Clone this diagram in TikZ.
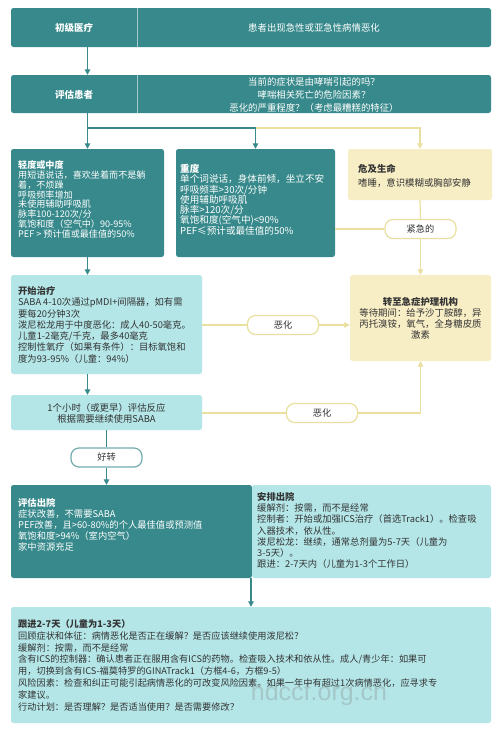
\documentclass[tikz,border=0pt]{standalone}
\usepackage{fontspec}
\setmainfont{Noto Sans CJK SC}
\newfontfamily\wmfont{Liberation Sans}
\usetikzlibrary{fit,arrows.meta}
\definecolor{tealc}{HTML}{37898B}
\definecolor{cyanc}{HTML}{B4E6E8}
\definecolor{yboxc}{HTML}{F8EEC6}
\definecolor{ylinec}{HTML}{E9DF9E}
\definecolor{darkc}{HTML}{333333}
\tikzset{
  box/.style={rounded corners=2.5pt, inner sep=0pt, draw=none},
  tbox/.style={box, fill=tealc},
  cbox/.style={box, fill=cyanc},
  ybox/.style={box, fill=yboxc},
  tline/.style={draw=tealc, line width=1.2pt},
  tarrow/.style={tline, -{Triangle[width=5.5pt,length=5.5pt]}},
  yline/.style={draw=ylinec, line width=1.2pt},
  yarrow/.style={yline, -{Triangle[width=5.5pt,length=5.5pt]}},
  pill/.style={rounded corners=8pt, fill=white, minimum width=71pt, minimum height=19pt, inner sep=0pt, line width=1.2pt, text=darkc, font=\fontsize{9.2}{10}\selectfont},
  ypill/.style={pill, draw=ylinec},
  tpill/.style={pill, draw=tealc!70},
  wtxt/.style={text=white, inner sep=0pt, align=left, anchor=base west},
  dtxt/.style={text=darkc, inner sep=0pt, align=left, anchor=base west},
  divider/.style={draw=white!55!tealc, line width=0.6pt},
}
\begin{document}
\begin{tikzpicture}[x=1pt,y=-1pt]
\useasboundingbox[fill=white] (0,0) rectangle (500,729);

% row 1 and 2
\node[tbox, fit={(11,8) (491,47)}] (prim) {};
\node[tbox, fit={(11,75) (491,113)}] (eval) {};
\draw[divider] (137,8) -- (137,47);
\draw[divider] (137,75) -- (137,113);
\node[text=white, inner sep=0pt, font=\fontsize{9.5}{11}\bfseries] (primh) at (74,28) {初级医疗};
\node[text=white, inner sep=0pt, font=\fontsize{9.4}{11}\selectfont] (primt) at (314,28) {患者出现急性或亚急性病情恶化};
\node[text=white, inner sep=0pt, font=\fontsize{9.5}{11}\bfseries] (evalh) at (74,95) {评估患者};
\node[text=white, inner sep=0pt, align=center, anchor=base, font=\fontsize{9.4}{13}\selectfont] (evalt) at (314,111.4) {当前的症状是由哮喘引起的吗？\\哮喘相关死亡的危险因素？\\恶化的严重程度？（考虑最糟糕的特征）};

% row 3
\node[tbox, fit={(11,149) (164,257)}] (mild) {};
\node[tbox, fit={(176,149) (335,257)}] (severe) {};
\node[ybox, fit={(348,149) (492,200)}] (life) {};
\node[wtxt, font=\fontsize{9.1}{9.85}\selectfont] (mildt) at (18,237.4) {\textbf{轻度或中度}\\用短语说话，喜欢坐着而不是躺\\着，不烦躁\\呼吸频率增加\\未使用辅助呼吸肌\\脉率100-120次/分\\氧饱和度（空气中）90-95\%\\PEF > 预计值或最佳值的50\%};
\node[wtxt, font=\fontsize{9.6}{10.3}\selectfont] (severet) at (180,234.2) {\textbf{重度}\\单个词说话，身体前倾，坐立不安\\呼吸频率>30次/分钟\\使用辅助呼吸肌\\脉率>120次/分\\氧饱和度(空气中)<90\%\\PEF≤预计或最佳值的50\%};
\node[dtxt, font=\fontsize{9.4}{14}\selectfont] (lifet) at (358,186.4) {\textbf{危及生命}\\嗜睡，意识模糊或胸部安静};

% treatment
\node[cbox, fit={(11,275) (202,374)}] (start) {};
\node[ybox, fit={(350,275) (491,361)}] (acute) {};
\node[dtxt, font=\fontsize{9.3}{11.3}\selectfont] (startt) at (18,362.2) {\textbf{开始治疗}\\SABA 4-10次通过pMDI+间隔器，如有需\\要每20分钟3次\\泼尼松龙用于中度恶化：成人40-50毫克。\\儿童1-2毫克/千克，最多40毫克\\控制性氧疗（如果有条件）：目标氧饱和\\度为93-95\%（儿童：94\%）};
\node[dtxt, align=center, anchor=base, font=\fontsize{9.4}{11}\selectfont] (acutet) at (420.5,338.4) {\textbf{转至急症护理机构}\\等待期间：给予沙丁胺醇，异\\丙托溴铵，氧气，全身糖皮质\\激素};

\node[cbox, fit={(11,395) (202,430)}] (hour) {};
\node[dtxt, align=center, anchor=base, font=\fontsize{9.4}{11}\selectfont] (hourt) at (106.5,422.4) {1个小时（或更早）评估反应\\根据需要继续使用SABA};

% pills
\node[ypill] (urgent) at (420.5,229) {紧急的};
\node[ypill] (worse1) at (283,325) {恶化};
\node[ypill] (worse2) at (322,413) {恶化};
\node[tpill] (better) at (106.5,457.5) {好转};

% discharge
\node[tbox, fit={(11,485) (252,578)}] (disc) {};
\node[cbox, fit={(252,485) (491,578)}] (arrange) {};
\node[wtxt, font=\fontsize{9.3}{11}\selectfont] (disct) at (18,550.4) {\textbf{评估出院}\\症状改善，不需要SABA\\PEF改善，且>60-80\%的个人最佳值或预测值\\氧饱和度>94\%（室内空气）\\家中资源充足};
\node[dtxt, font=\fontsize{9.3}{11.2}\selectfont] (arranget) at (257,567.6) {\textbf{安排出院}\\缓解剂：按需，而不是经常\\控制者：开始或加强ICS治疗（首选Track1）。检查吸\\入器技术，依从性。\\泼尼松龙：继续，通常总剂量为5-7天（儿童为\\3-5天）。\\跟进：2-7天内（儿童为1-3个工作日）};

% follow up
\node[cbox, fit={(11,607) (491,723)}] (follow) {};
\node[text=gray, opacity=0.3, inner sep=0pt, font=\wmfont\fontsize{25}{25}\selectfont] (wm) at (319,694) {hdccf.org.cn};
\node[dtxt, font=\fontsize{9.2}{11.86}\selectfont] (followt) at (18,710.4) {\textbf{跟进2-7天（儿童为1-3天）}\\回顾症状和体征：病情恶化是否正在缓解？是否应该继续使用泼尼松？\\缓解剂：按需，而不是经常\\含有ICS的控制器：确认患者正在服用含有ICS的药物。检查吸入技术和依从性。成人/青少年：如果可\\用，切换到含有ICS-福莫特罗的GINATrack1（方框4-6，方框9-5）\\风险因素：检查和纠正可能引起病情恶化的可改变风险因素。如果一年中有超过1次病情恶化，应寻求专\\家建议。\\行动计划：是否理解？是否适当使用？是否需要修改？};

% connectors
\coordinate (j1) at (mild.north |- 0,128);
\draw[tarrow] (prim.south -| mild.north) -- (eval.north -| mild.north);
\draw[tline] (eval.south -| mild.north) -- (j1);
\draw[tarrow] (j1) -- (mild.north);
\draw[yarrow] (j1 -| severe.north) -- (j1 -| life.north) -- (life.north);
\draw[tarrow] (j1) -- (j1 -| severe.north) -- (severe.north);
\draw[yline] (severe.east |- urgent.west) -- (urgent.west);
\draw[yline] (life.south) -- (urgent.north);
\draw[yarrow] (urgent.south) -- (acute.north);
\draw[tarrow] (mild.south) -- (mild.south |- start.north);
\draw[yline] (start.east |- worse1.west) -- (worse1.west);
\draw[yarrow] (worse1.east) -- (worse1.east -| acute.west);
\draw[tarrow] (start.south -| mild.south) -- (hour.north -| mild.south);
\draw[yline] (hour.east |- worse2.west) -- (worse2.west);
\draw[yarrow] (worse2.east) -- (worse2.east -| acute.south) -- (acute.south);
\draw[tline] (hour.south) -- (better.north);
\draw[tarrow] (better.south) -- (better.south |- disc.north);
\draw[tarrow] (disc.south -| follow.north) -- (follow.north);
\end{tikzpicture}
\end{document}
